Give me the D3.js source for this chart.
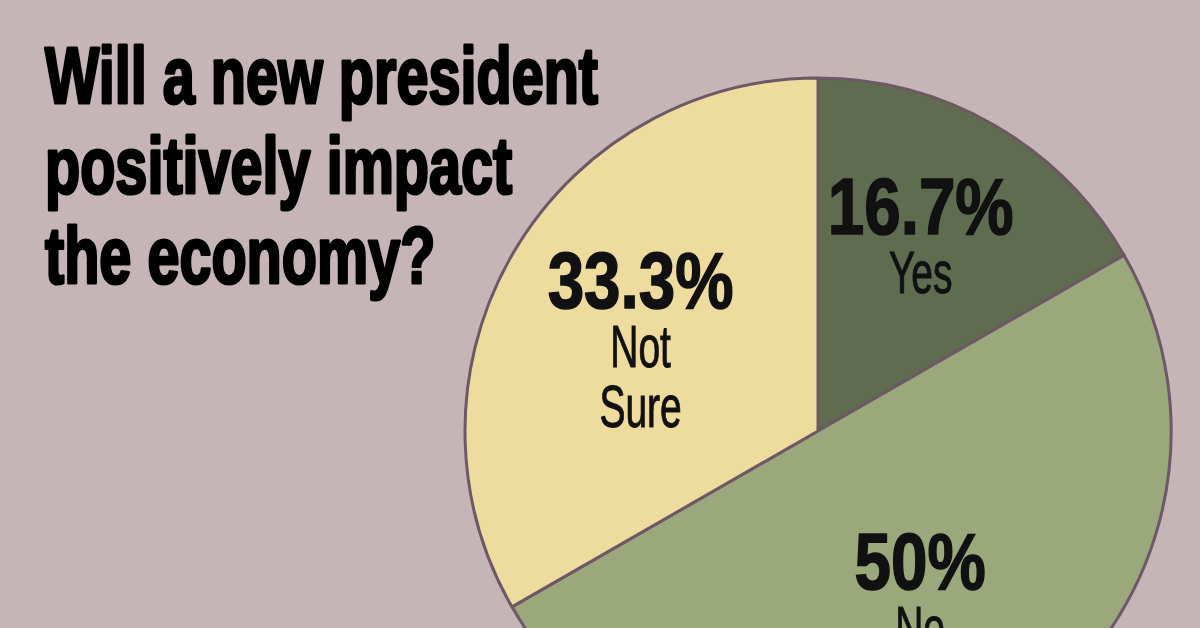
<!DOCTYPE html>
<html>
<head>
<meta charset="utf-8">
<script src="https://cdn.jsdelivr.net/npm/d3@7"></script>
<style>
  html, body { margin: 0; padding: 0; background: #c5b5b7; overflow: hidden; }
  svg { display: block; }
</style>
</head>
<body>
<div id="chart"></div>
<script>
// poll answers, in drawing order (clockwise from 12 o'clock)
var answers = ["Yes", "No", "Not Sure"];
var shares = [16.7, 50, 33.3];
var shareLabels = ["16.7%", "50%", "33.3%"];
var answerLines = [["Yes"], ["No"], ["Not", "Sure"]];
var sliceColors = ["#5f6c4f", "#9aa87c", "#eedc9e"];

var titleLines = ["Will a new president", "positively impact", "the economy?"];

var width = 1200, height = 628;
var font = "'Liberation Sans', Arial, sans-serif";

var svg = d3.select("#chart").append("svg")
    .attr("width", width)
    .attr("height", height);

svg.append("rect")
    .attr("width", width)
    .attr("height", height)
    .style("fill", "#c5b5b7");

// #####################################################
// Title (condensed by scaling x)
//
var title = svg.append("g")
    .attr("transform", "translate(45,0) scale(0.72,1)");

title.selectAll("text")
    .data(titleLines)
    .enter().append("text")
      .attr("x", 0)
      .attr("y", function (d, i) { return 103 + i * 90; })
      .text(function (d) { return d; })
      .style("font-family", font)
      .style("font-weight", "bold")
      .style("font-size", "80px")
      .style("fill", "#000")
      .style("stroke", "#000")
      .style("stroke-width", 3.2)
      .style("stroke-linejoin", "round");

// #####################################################
// Pie
//
var cx = 818, cy = 431, radius = 353;

var pie = d3.pie()
    .sort(null)
    .value(function (d) { return d; });

var arc = d3.arc()
    .innerRadius(0)
    .outerRadius(radius);

var labelArc = d3.arc()
    .innerRadius(205)
    .outerRadius(205);

var color = d3.scaleOrdinal()
    .domain(answers)
    .range(sliceColors);

var g = svg.append("g")
    .attr("transform", "translate(" + cx + "," + cy + ")");

var arcs = pie(shares);

g.selectAll("path")
    .data(arcs)
    .enter().append("path")
      .attr("d", arc)
      .style("fill", function (d, i) { return color(answers[i]); })
      .style("stroke", "#6e5866")
      .style("stroke-width", 3)
      .style("stroke-linejoin", "round");

// labels at the slice centroids
var labels = g.selectAll("g.label")
    .data(arcs)
    .enter().append("g")
      .attr("class", "label")
      .attr("transform", function (d) {
        var c = labelArc.centroid(d);
        return "translate(" + c[0] + "," + (c[1] - 20) + ")";
      });

labels.append("text")
    .attr("text-anchor", "middle")
    .attr("transform", "scale(0.83,1)")
    .attr("y", 0)
    .text(function (d, i) { return shareLabels[i]; })
    .style("font-family", font)
    .style("font-weight", "bold")
    .style("font-size", "79px")
    .style("fill", "#111")
    .style("stroke", "#111")
    .style("stroke-width", 1.6);

labels.each(function (d, i) {
  var sub = d3.select(this).append("g")
      .attr("transform", "scale(0.65,1)");
  sub.selectAll("text")
      .data(answerLines[i])
      .enter().append("text")
        .attr("text-anchor", "middle")
        .attr("y", function (t, j) { return 59 + j * 60; })
        .text(function (t) { return t; })
        .style("font-family", font)
        .style("font-size", "60px")
        .style("fill", "#111")
        .style("stroke", "#111")
        .style("stroke-width", 1);
});
</script>
</body>
</html>
